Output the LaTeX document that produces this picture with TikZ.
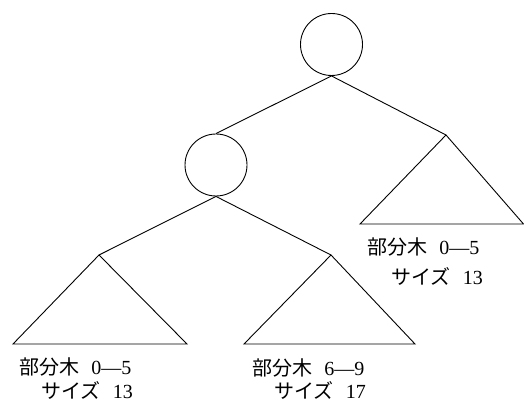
\documentclass[tikz,border=0pt]{standalone}
\usepackage{fontspec}
\setmainfont{Liberation Serif}
\newfontfamily\jp{Noto Sans CJK JP}
\begin{document}
\begin{tikzpicture}[x=1pt,y=-1pt,line width=0.9pt,
  knot/.style={draw,circle,minimum size=62pt,inner sep=0pt},
  lab/.style={anchor=west,inner sep=0pt,font=\fontsize{20}{22}\selectfont}]
\useasboundingbox (0,0) rectangle (524,403);

\node[knot] (root) at (331.5,44.5) {};
\node[knot] (inner) at (216,165) {};

\coordinate (rtop) at (446,135);
\coordinate (ltop) at (99,255);
\coordinate (mtop) at (331,255);

\draw (root.south) -- (inner.north);
\draw (root.south) -- (rtop);
\draw (inner.south) -- (ltop);
\draw (inner.south) -- (mtop);

\foreach \t/\l/\r/\b in {rtop/360/523.5/224,ltop/13/187/344,mtop/244/415/344}
  \draw (\l,\b) -- (\t) -- (\r,\b) -- cycle;

\node[lab] (rname) at (367,247) {{\jp 部分木}\hspace{0.6em}0—5};
\node[lab] (rsize) at (391,276) {{\jp サイズ}\hspace{0.6em}13};
\node[lab] (lname) at (19,367) {{\jp 部分木}\hspace{0.6em}0—5};
\node[lab] (lsize) at (41,390) {{\jp サイズ}\hspace{0.6em}13};
\node[lab] (mname) at (252,368) {{\jp 部分木}\hspace{0.6em}6—9};
\node[lab] (msize) at (274,390) {{\jp サイズ}\hspace{0.6em}17};
\end{tikzpicture}
\end{document}
